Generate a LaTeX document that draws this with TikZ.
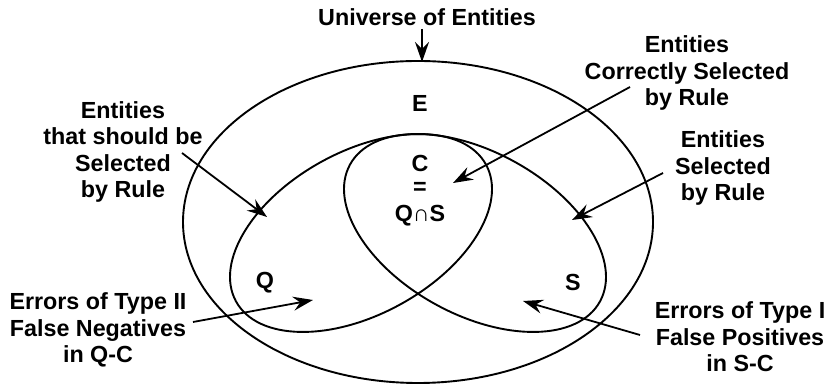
\documentclass[tikz,border=0pt]{standalone}
\usepackage{fontspec}
\setmainfont{Liberation Sans}
\usetikzlibrary{arrows.meta}
\begin{document}
\begin{tikzpicture}[x=1pt,y=1pt,
  lbl/.style={font=\bfseries\fontsize{23.3}{26.5}\selectfont, align=center, inner sep=0pt},
  arr/.style={-{Stealth[length=20pt,width=14pt,inset=7pt]}, line width=1.8pt},
  curve/.style={line width=1.9pt}]
\useasboundingbox (0,0) rectangle (829,387);
% sets
\draw[curve] (418,165) ellipse [x radius=235, y radius=161];
\draw[curve, rotate around={28.7:(361,154)}] (361,154) ellipse [x radius=142.5, y radius=81.5];
\draw[curve, rotate around={-28.7:(475,154)}] (475,154) ellipse [x radius=142.5, y radius=81.5];
% set letters
\node[lbl] (E) at (420,284) {E};
\node[lbl] (C) at (420,224) {C};
\node[lbl] (eq) at (420,199) {=};
\node[lbl] (QS) at (420,171) {Q∩S};
\node[lbl] (Q) at (265,104) {Q};
\node[lbl] (S) at (573,105) {S};
% labels
\node[lbl] (univ) at (427,370) {Universe of Entities};
\node[lbl] (shd) at (123,235) {Entities\\that should be\\Selected\\by Rule};
\node[lbl] (cor) at (687,314) {Entities\\Correctly Selected\\by Rule};
\node[lbl] (sel) at (723,219) {Entities\\Selected\\by Rule};
\node[lbl] (t2) at (98,57) {Errors of Type II\\False Negatives\\in Q-C};
\node[lbl] (t1) at (740,50) {Errors of Type I\\False Positives\\in S-C};
% arrow ends
\coordinate (u0) at (422,358); \coordinate (u1) at (422,325);
\coordinate (a0) at (182,234); \coordinate (a1) at (267,170);
\coordinate (b0) at (630,300); \coordinate (b1) at (453,204);
\coordinate (c0) at (663,214); \coordinate (c1) at (572,167);
\coordinate (d0) at (193,65);  \coordinate (d1) at (313,87);
\coordinate (e0) at (640,52);  \coordinate (e1) at (523,86);
\draw[arr] (u0) -- (u1);
\draw[arr] (a0) -- (a1);
\draw[arr] (b0) -- (b1);
\draw[arr] (c0) -- (c1);
\draw[arr] (d0) -- (d1);
\draw[arr] (e0) -- (e1);
\end{tikzpicture}
\end{document}
